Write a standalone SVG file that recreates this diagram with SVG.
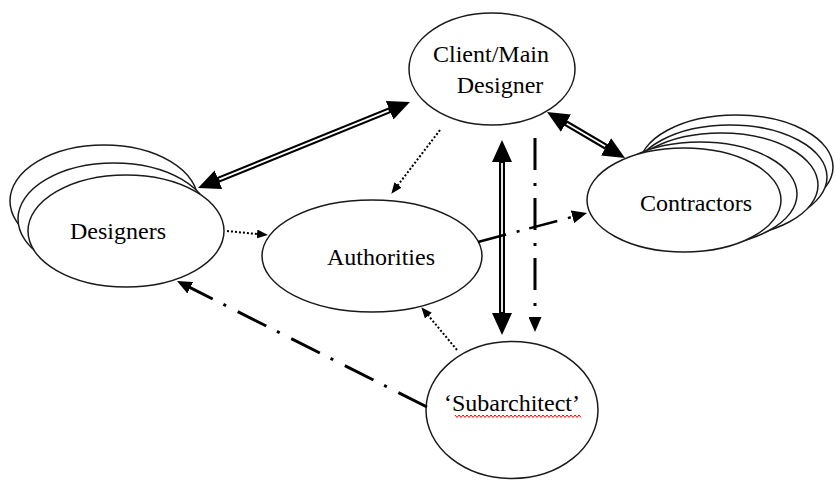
<svg xmlns="http://www.w3.org/2000/svg" width="835" height="481" viewBox="0 0 835 481">
<defs>
<style>
.node{fill:#fff;stroke:#1a1a1a;stroke-width:1.5}
text.lbl{font-family:'Liberation Serif','DejaVu Serif','Times New Roman',serif;font-size:24px;fill:#000;text-anchor:middle}
.dbl{stroke:#000;stroke-width:6;fill:none}
.dblin{stroke:#fff;stroke-width:1.8;fill:none}
.dot{stroke:#000;stroke-width:2;stroke-dasharray:2 2;fill:none}
.dd{stroke:#000;stroke-width:3;stroke-dasharray:32 13 3 12;fill:none}
.dd2{stroke:#000;stroke-width:2.5;stroke-dasharray:29 11 3 10;fill:none}
</style>
<marker id="big" viewBox="0 0 22 20" refX="4" refY="10" markerWidth="22" markerHeight="20" markerUnits="userSpaceOnUse" orient="auto-start-reverse"><path d="M0,0 L22,10 L0,20 z" fill="#000"/></marker>
<marker id="med" viewBox="0 0 15 13" refX="3" refY="6.5" markerWidth="15" markerHeight="13" markerUnits="userSpaceOnUse" orient="auto"><path d="M0,0 L15,6.5 L0,13 z" fill="#000"/></marker>
<marker id="sml" viewBox="0 0 11 9" refX="2" refY="4.5" markerWidth="11" markerHeight="9" markerUnits="userSpaceOnUse" orient="auto"><path d="M0,0 L11,4.5 L0,9 z" fill="#000"/></marker>
</defs>
<rect width="835" height="481" fill="#fff"/>

<g id="client">
<ellipse class="node" cx="492" cy="69" rx="83" ry="56"/>
<text class="lbl" x="491" y="62" font-family="Liberation Serif">Client/Main</text>
<text class="lbl" x="500" y="93" font-family="Liberation Serif">Designer</text>
</g>

<g id="designers">
<ellipse class="node" cx="104" cy="201" rx="94" ry="56"/>
<ellipse class="node" cx="114" cy="219" rx="96" ry="56"/>
<ellipse class="node" cx="126" cy="231" rx="98" ry="56"/>
<text class="lbl" x="118" y="239" font-family="Liberation Serif">Designers</text>
</g>

<g id="authorities">
<ellipse class="node" cx="372" cy="256" rx="110" ry="56"/>
<text class="lbl" x="381" y="265" font-family="Liberation Serif">Authorities</text>
</g>

<g id="contractors">
<ellipse class="node" cx="736" cy="167" rx="97" ry="52"/>
<ellipse class="node" cx="730" cy="177" rx="97" ry="52"/>
<ellipse class="node" cx="721" cy="185" rx="97" ry="52"/>
<ellipse class="node" cx="700" cy="194" rx="97" ry="52"/>
<ellipse class="node" cx="684" cy="200" rx="97" ry="52"/>
<text class="lbl" x="696" y="211" font-family="Liberation Serif">Contractors</text>
</g>

<g id="subarchitect">
<ellipse class="node" cx="512" cy="410" rx="86" ry="68.5"/>
<text class="lbl" x="512" y="411" font-family="Liberation Serif">‘Subarchitect’</text>
<path d="M455,415 l2,2.5 l2,-2.5 l2,2.5 l2,-2.5 l2,2.5 l2,-2.5 l2,2.5 l2,-2.5 l2,2.5 l2,-2.5 l2,2.5 l2,-2.5 l2,2.5 l2,-2.5 l2,2.5 l2,-2.5 l2,2.5 l2,-2.5 l2,2.5 l2,-2.5 l2,2.5 l2,-2.5 l2,2.5 l2,-2.5 l2,2.5 l2,-2.5 l2,2.5 l2,-2.5 l2,2.5 l2,-2.5 l2,2.5 l2,-2.5 l2,2.5 l2,-2.5 l2,2.5 l2,-2.5 l2,2.5 l2,-2.5 l2,2.5 l2,-2.5 l2,2.5 l2,-2.5 l2,2.5 l2,-2.5 l2,2.5 l2,-2.5 l2,2.5 l2,-2.5 l2,2.5 l2,-2.5 l2,2.5 l2,-2.5 l2,2.5 l2,-2.5 l2,2.5 l2,-2.5 l2,2.5 l2,-2.5 l2,2.5 l2,-2.5 l2,2.5 l2,-2.5 l2,2.5" fill="none" stroke="#e00" stroke-width="1"/>
</g>

<g id="connectors">
<line class="dbl" x1="214.7" y1="181.2" x2="393.3" y2="108.8" marker-start="url(#big)" marker-end="url(#big)"/>
<line class="dblin" x1="219.3" y1="179.4" x2="388.7" y2="110.6"/>
<line class="dbl" x1="562.5" y1="121.1" x2="609.5" y2="148.9" marker-start="url(#big)" marker-end="url(#big)"/>
<line class="dblin" x1="566.8" y1="123.7" x2="605.2" y2="146.3"/>
<line class="dbl" x1="502" y1="158" x2="502" y2="317" marker-start="url(#big)" marker-end="url(#big)"/>
<line class="dblin" x1="502" y1="163" x2="502" y2="312"/>
<line class="dot" x1="440" y1="130" x2="396.8" y2="186.6" marker-end="url(#sml)"/>
<line class="dot" x1="227" y1="231" x2="259" y2="234.2" marker-end="url(#sml)"/>
<line class="dot" x1="457" y1="350" x2="427.1" y2="314.1" marker-end="url(#sml)"/>
<line class="dd" x1="427" y1="407" x2="187.7" y2="286.4" marker-end="url(#med)"/>
<line class="dd" x1="535" y1="138" x2="535" y2="320" marker-end="url(#med)"/>
<line class="dd2" x1="478" y1="242" x2="575.4" y2="216.1" marker-end="url(#med)"/>
</g>
</svg>
